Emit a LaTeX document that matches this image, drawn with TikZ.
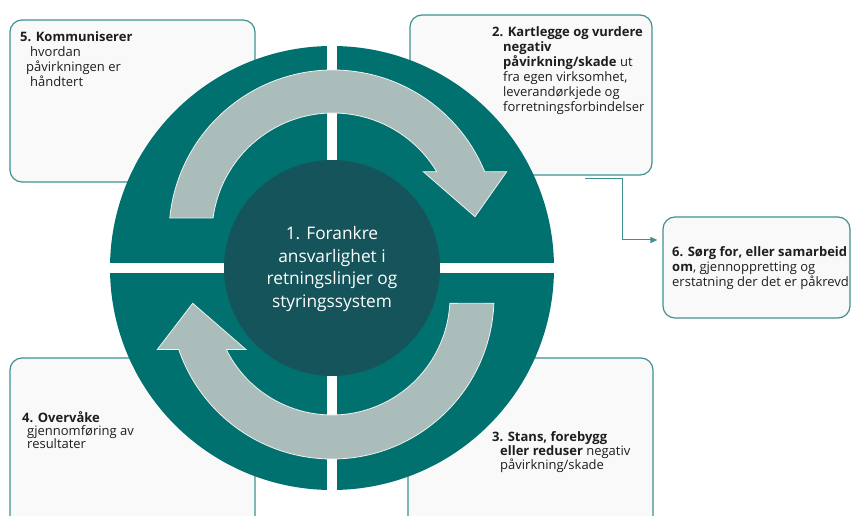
\documentclass[tikz,border=0pt]{standalone}
\usepackage{xcolor}
\usepackage{fontspec}
\setmainfont{Open Sans}
\usetikzlibrary{arrows.meta}

\definecolor{ringteal}{HTML}{00716E}
\definecolor{coreteal}{HTML}{15545A}
\definecolor{arrowgray}{HTML}{ABBDBB}
\definecolor{boxline}{HTML}{3F9190}
\definecolor{boxfill}{HTML}{F9F9F9}
\definecolor{textdark}{HTML}{1E1E1E}

\tikzset{
	infobox/.style={draw=boxline, fill=boxfill, line width=1.2pt, rounded corners=12pt, inner sep=0pt},
	boxtext/.style={anchor=north west, align=left, inner sep=0pt, text=textdark, font=\fontsize{13}{15}\selectfont},
	cyclearrow/.style={fill=arrowgray, draw=white!80!arrowgray, line width=0.8pt},
	link/.style={draw=boxline, line width=1pt, -{Triangle[length=7pt,width=6pt]}, shorten >=5pt}
}

\begin{document}
\begin{tikzpicture}[x=1pt,y=1pt]
			\fill[white] (0,0) rectangle (852,515);
			\useasboundingbox (0,0) rectangle (852,515);

			\node[infobox, minimum width=245pt, minimum height=162pt] (box5) at (132.5,414) {};
			\node[infobox, minimum width=242pt, minimum height=160pt] (box2) at (531,420) {};
			\node[infobox, minimum width=187pt, minimum height=101pt] (box6) at (756.5,247.5) {};
			\node[infobox, minimum width=245pt, minimum height=187pt] (box4) at (132.5,63.5) {};
			\node[infobox, minimum width=245pt, minimum height=187pt] (box3) at (530.5,63.5) {};

			\fill[ringteal] (332,247) circle[radius=222];
			\begin{scope}
			\clip (332,247) circle[radius=222];
			\fill[white] (327,0) rectangle (337,515);
			\fill[white] (0,242) rectangle (852,252);
			\end{scope}
			\fill[coreteal] (332,247) circle[radius=108];

			\draw[cyclearrow] ([shift={(333,281)}]174.4:164) arc[start angle=174.4, end angle=22.3, radius=164]
				-- (506.7,343.3) -- (475,298.3) -- (423.3,343.3)
				-- ([shift={(333,281)}]31:121) arc[start angle=31, end angle=172.4, radius=121] -- cycle;
			\draw[cyclearrow] ([shift={(332,218)}]-2.2:162) arc[start angle=-2.2, end angle=-161.1, radius=162]
				-- (157.3,165.5) -- (192.7,211.7) -- (246,165.5)
				-- ([shift={(332,218)}]-153.6:118) arc[start angle=-153.6, end angle=-3.1, radius=118] -- cycle;

			\node[align=center, inner sep=0pt, text=white, font=\fontsize{17.3}{22.7}\selectfont] (core) at (332,246)
				{1. Forankre\\ansvarlighet i\\retningslinjer og\\styringssystem};

			\node[boxtext] (text5) at (20,484) {\textbf{5. Kommuniserer}\\\hspace*{10pt}hvordan\\\hspace*{6pt}påvirkningen er\\\hspace*{10pt}håndtert};
			\node[boxtext] (text2) at (492,489) {\textbf{2. Kartlegge og vurdere}\\\hspace*{11pt}\textbf{negativ}\\\hspace*{11pt}\textbf{påvirkning/skade} ut\\\hspace*{11pt}fra egen virksomhet,\\\hspace*{11pt}leverandørkjede og\\\hspace*{11pt}forretningsforbindelser};
			\node[boxtext] (text6) at (672,269) {\textbf{6. Sørg for, eller samarbeid}\\\textbf{om}, gjennoppretting og\\erstatning der det er påkrevd};
			\node[boxtext, font=\fontsize{13}{13}\selectfont] (text4) at (22,104) {\textbf{4. Overvåke}\\\hspace*{5pt}gjennomføring av\\\hspace*{5pt}resultater};
			\node[boxtext, font=\fontsize{13}{14}\selectfont] (text3) at (492,84) {\textbf{3. Stans, forebygg}\\\hspace*{8pt}\textbf{eller reduser} negativ\\\hspace*{8pt}påvirkning/skade};

			\coordinate (k1) at (585,336);
			\coordinate (k2) at (622,275);
			\draw[link] (k1) -| (k2) -- (k2 -| box6.west);
\end{tikzpicture}
\end{document}
